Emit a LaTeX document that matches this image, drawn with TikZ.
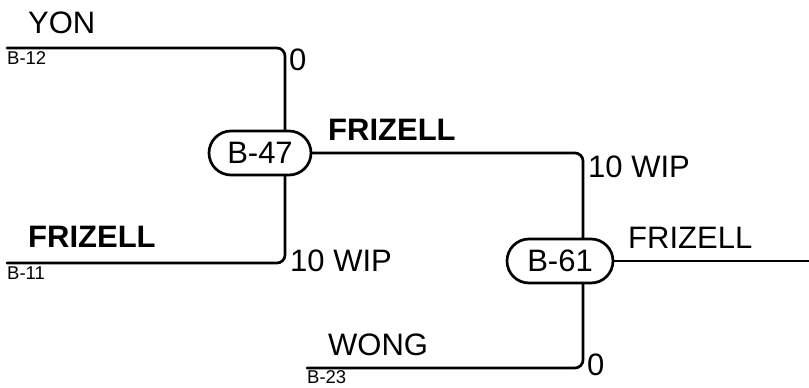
\documentclass[tikz,border=0pt]{standalone}
\usepackage{fontspec}
\setmainfont{Liberation Sans}
\usetikzlibrary{shapes.misc}

\tikzset{
  wire/.style={line width=2.7pt, rounded corners=8pt},
  unit/.style={draw, fill=white, line width=2.7pt, rounded rectangle,
    minimum width=102pt, minimum height=44pt, inner sep=0pt,
    font=\fontsize{31}{35}\selectfont},
  lab/.style={anchor=base west, inner sep=0pt, font=\fontsize{31}{35}\selectfont},
  boldlab/.style={lab, font=\fontsize{31}{35}\selectfont\bfseries},
  tag/.style={anchor=base west, inner sep=0pt, font=\fontsize{18.5}{20}\selectfont}
}

\begin{document}
\begin{tikzpicture}[x=1pt, y=-1pt, line cap=round]
  \useasboundingbox (0,0) rectangle (809,388);

  % feeds into B-47
  \coordinate (in12) at (7,48);
  \coordinate (in11) at (7,263);
  \coordinate (bus47) at (285,0);
  \draw[wire] (in12) -| (bus47 |- in11) -- (in11);
  \node[unit] (b47) at (260,153) {B-47};

  % feeds into B-61
  \coordinate (in23) at (307,368);
  \coordinate (bus61) at (583,0);
  \draw[wire] (b47.east) -| (bus61 |- in23) -- (in23);
  \node[unit, minimum width=106pt] (b61) at (560,261) {B-61};

  % output
  \coordinate (out) at (809,261);
  \draw[wire] (b61.east) -- (out);

  % names and quantities
  \foreach \x/\y/\txt in {28/34/YON, 289/70/0, 290/271/10 WIP, 588/177/10 WIP,
      628/248/FRIZELL, 328/355/WONG, 587/375/0}
    \node[lab] at (\x,\y) {\txt};
  \foreach \x/\y in {28/247, 328/140}
    \node[boldlab] at (\x,\y) {FRIZELL};
  \foreach \x/\y/\txt in {7/64/B-12, 7/279/B-11, 307/383/B-23}
    \node[tag] at (\x,\y) {\txt};
\end{tikzpicture}
\end{document}
